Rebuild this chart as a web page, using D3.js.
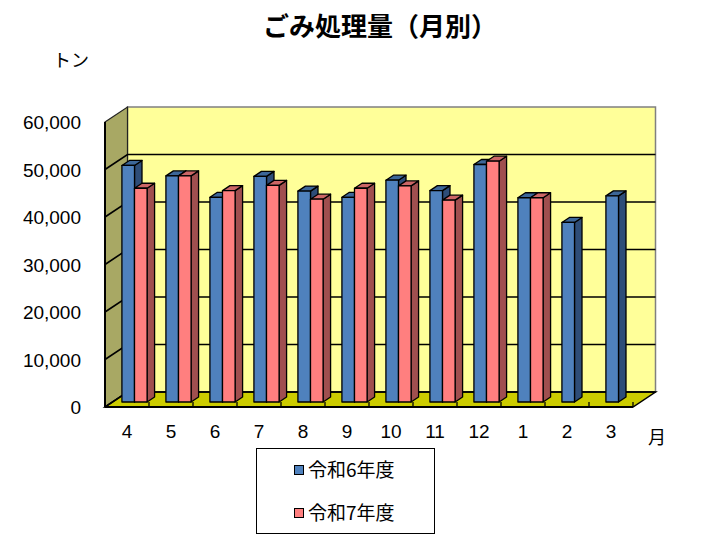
<!DOCTYPE html>
<html lang="ja">
<head>
<meta charset="UTF-8">
<title>ごみ処理量（月別）</title>
<script src="https://d3js.org/d3.v7.min.js"></script>
<style>
  body { margin: 0; background: #fff; }
  svg { display: block; }
  .jp { font-family: "Noto Sans CJK JP", sans-serif; }
  .num { font-family: "Liberation Sans", Arial, sans-serif; font-size: 19px; fill: #000; }
</style>
</head>
<body>
<div id="chart"></div>
<script>
// data
const months = ['4', '5', '6', '7', '8', '9', '10', '11', '12', '1', '2', '3'];
const seriesNames = ['令和6年度', '令和7年度'];
const r6 = [49800, 47600, 43100, 47500, 44400, 43100, 46700, 44500, 50000, 43000, 37800, 43400];
const r7 = [45000, 47600, 44500, 45600, 42700, 45000, 45500, 42500, 50700, 43000, null, null];
const yTicks = [0, 10000, 20000, 30000, 40000, 50000, 60000];

const width = 702, height = 538;
const left = 105, right = 633, front0 = 407, front60 = 122;
const DX = 22.5, DY = 15; // depth of the box
const d0 = 1 / 3, d1 = 2 / 3; // bars sit in the middle third of the depth

const colors = [
  { front: '#4F81BD', top: '#3D6799', side: '#2E4D78' },
  { front: '#FF7F7F', top: '#CC6666', side: '#A04F4F' }
];

const svg = d3.select('#chart').append('svg')
  .attr('width', width)
  .attr('height', height);

const x = d3.scaleBand().domain(months).range([left, right]);
const bw = x.bandwidth();
const xs = d3.scaleBand().domain(seriesNames).range([bw * 0.214, bw * 0.786]);
const y = d3.scaleLinear().domain([0, 60000]).range([front0, front60]);

// shift a front-plane point back by depth d (0..1)
const P = (px, py, d) => [px + d * DX, py - d * DY];
const poly = pts => pts.map(p => p.join(',')).join(' ');

// walls
svg.append('polygon') // back wall
  .attr('points', poly([P(left, y(60000), 1), P(right, y(60000), 1), P(right, y(0), 1), P(left, y(0), 1)]))
  .attr('fill', '#FFFF99').attr('stroke', '#808080').attr('stroke-width', 1.5);
svg.append('polygon') // side wall
  .attr('points', poly([[left, y(60000)], P(left, y(60000), 1), P(left, y(0), 1), [left, y(0)]]))
  .attr('fill', '#A8A864').attr('stroke', '#222').attr('stroke-width', 1.2);
svg.append('polygon') // floor
  .attr('points', poly([[left, y(0)], [right, y(0)], P(right, y(0), 1), P(left, y(0), 1)]))
  .attr('fill', '#CCCC00').attr('stroke', '#000').attr('stroke-width', 1.5);

// gridlines on back and side wall
const grid = svg.append('g').attr('stroke', '#000').attr('stroke-width', 1.6).attr('fill', 'none');
yTicks.filter(v => v < 60000).forEach(v => {
  grid.append('polyline')
    .attr('points', poly([[left, y(v)], P(left, y(v), 1), P(right, y(v), 1)]));
});

// axis lines
svg.append('line').attr('x1', left).attr('x2', left).attr('y1', y(60000)).attr('y2', y(0))
  .attr('stroke', '#000').attr('stroke-width', 2);
svg.append('line').attr('x1', left).attr('x2', right).attr('y1', y(0)).attr('y2', y(0))
  .attr('stroke', '#000').attr('stroke-width', 2.2);
svg.append('g').selectAll('line')
  .data(months.map(m => x(m)).concat([right]).slice(1))
  .enter().append('line')
  .attr('x1', d => d).attr('x2', d => d)
  .attr('y1', y(0) - 5).attr('y2', y(0))
  .attr('stroke', '#000').attr('stroke-width', 1.3);

// bars
const bars = svg.append('g').attr('stroke', '#000').attr('stroke-width', 1.3).attr('stroke-linejoin', 'round');
months.forEach((m, i) => {
  [r6, r7].forEach((vals, s) => {
    const v = vals[i];
    if (v == null) return;
    const xl = x(m) + xs(seriesNames[s]);
    const xr = xl + xs.bandwidth();
    const yt = y(v), yb = y(0);
    const c = colors[s];
    bars.append('polygon') // side
      .attr('points', poly([P(xr, yt, d0), P(xr, yt, d1), P(xr, yb, d1), P(xr, yb, d0)]))
      .attr('fill', c.side);
    bars.append('polygon') // top
      .attr('points', poly([P(xl, yt, d0), P(xr, yt, d0), P(xr, yt, d1), P(xl, yt, d1)]))
      .attr('fill', c.top);
    bars.append('polygon') // front
      .attr('points', poly([P(xl, yt, d0), P(xr, yt, d0), P(xr, yb, d0), P(xl, yb, d0)]))
      .attr('fill', c.front);
  });
});

// y tick labels
svg.append('g').selectAll('text')
  .data(yTicks)
  .enter().append('text')
  .attr('class', 'num')
  .attr('x', 81)
  .attr('y', d => y(d) + 7)
  .attr('text-anchor', 'end')
  .text(d => d3.format(',')(d));

// month labels
svg.append('g').selectAll('text')
  .data(months)
  .enter().append('text')
  .attr('class', 'num')
  .attr('x', d => x(d) + bw / 2)
  .attr('y', 438)
  .attr('text-anchor', 'middle')
  .text(d => d);

// title and unit labels
svg.append('text').attr('class', 'jp')
  .attr('x', 380).attr('y', 36)
  .attr('text-anchor', 'middle')
  .style('font-size', '26px').style('font-weight', 'bold')
  .text('ごみ処理量（月別）');
svg.append('text').attr('class', 'jp')
  .attr('x', 53).attr('y', 67)
  .style('font-size', '18px')
  .text('トン');
svg.append('text').attr('class', 'jp')
  .attr('x', 648).attr('y', 444)
  .style('font-size', '18px')
  .text('月');

// legend
const legend = svg.append('g');
legend.append('rect')
  .attr('x', 256.5).attr('y', 448.5).attr('width', 178).attr('height', 85)
  .attr('fill', '#fff').attr('stroke', '#000').attr('stroke-width', 1);
seriesNames.forEach((name, s) => {
  const ly = 465 + s * 43;
  legend.append('rect')
    .attr('x', 294.5).attr('y', ly + 0.5).attr('width', 9).attr('height', 9)
    .attr('fill', colors[s].front).attr('stroke', '#000').attr('stroke-width', 1);
  legend.append('text').attr('class', 'jp')
    .attr('x', 308).attr('y', ly + 12)
    .style('font-size', '19px')
    .text(name);
});
</script>
</body>
</html>
